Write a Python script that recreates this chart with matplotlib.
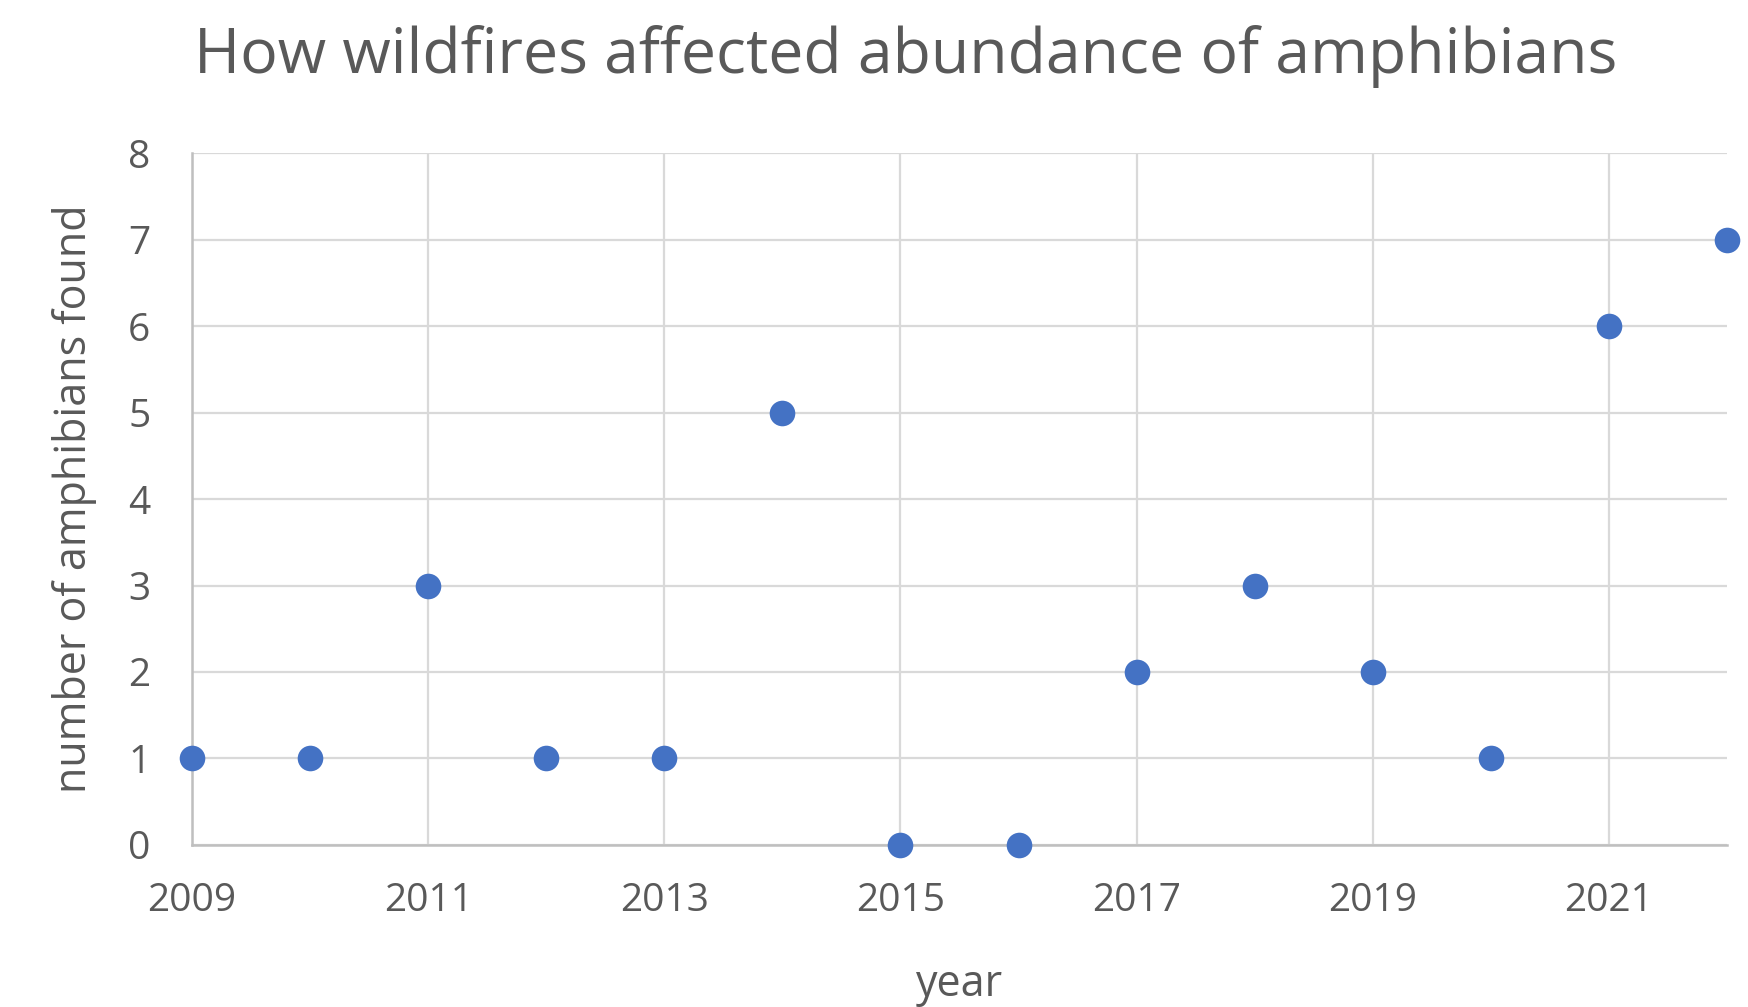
import matplotlib
matplotlib.use("Agg")
import matplotlib.pyplot as plt

years = [2009, 2010, 2011, 2012, 2013, 2014, 2015, 2016, 2017, 2018, 2019, 2020, 2021, 2022]
amphibians = [1, 1, 3, 1, 1, 5, 0, 0, 2, 3, 2, 1, 6, 7]
x_ticks = [2009, 2011, 2013, 2015, 2017, 2019, 2021]
y_ticks = [0, 1, 2, 3, 4, 5, 6, 7, 8]

plt.rcParams['font.family'] = ['Open Sans', 'DejaVu Sans']
text_color = '#595959'
grid_color = '#d9d9d9'

fig = plt.figure(figsize=(17.49, 10.07), dpi=100)
ax = fig.add_axes([0.1098, 0.1609, 0.8776, 0.6871])

ax.scatter(years, amphibians, s=340, color='#4472C4', zorder=3, clip_on=False, linewidths=0)

ax.set_xlim(2009, 2022)
ax.set_ylim(0, 8)
ax.set_xticks(x_ticks)
ax.set_yticks(y_ticks)
ax.grid(True, color=grid_color, linewidth=1.6, zorder=0)
ax.set_axisbelow(True)

for side in ['top', 'right']:
    ax.spines[side].set_visible(False)
for side in ['left', 'bottom']:
    ax.spines[side].set_color('#bfbfbf')
    ax.spines[side].set_linewidth(1.8)

ax.tick_params(axis='both', length=0, labelsize=28, labelcolor=text_color)
ax.tick_params(axis='x', pad=27)
ax.tick_params(axis='y', pad=30)

ax.set_xlabel('year', fontsize=31, color=text_color, labelpad=30)
ax.set_ylabel('number of amphibians found', fontsize=31, color=text_color, labelpad=22)

fig.suptitle('How wildfires affected abundance of amphibians', fontsize=45,
             color=text_color, x=0.518, y=0.975, va='top')

fig.savefig('out.png', dpi=100, facecolor='white')
